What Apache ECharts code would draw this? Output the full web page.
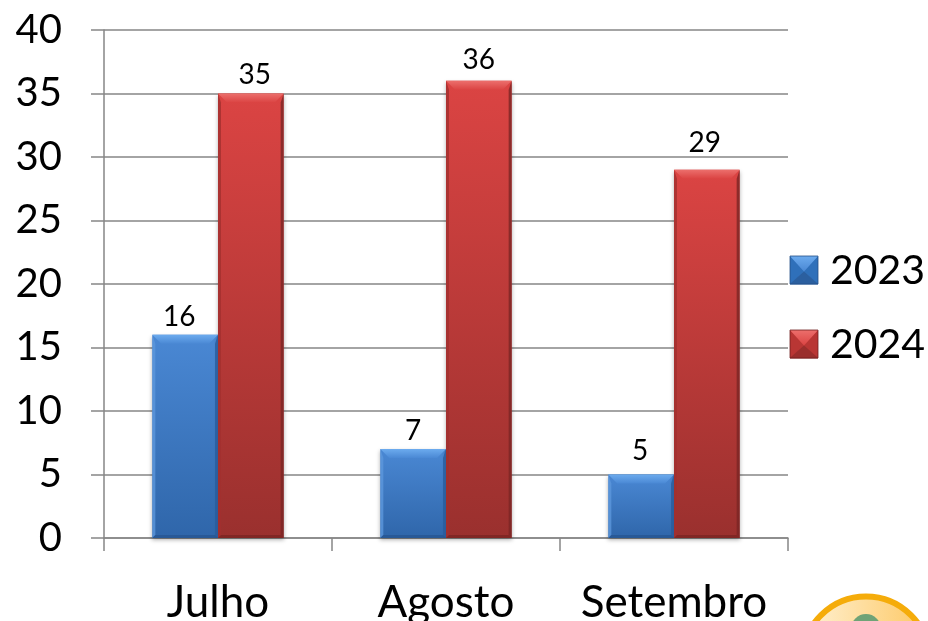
<!DOCTYPE html>
<html>
<head>
<meta charset="utf-8">
<style>html,body{margin:0;padding:0;background:#fff;overflow:hidden}#c{width:928px;height:621px}</style>
<script src="https://cdn.jsdelivr.net/npm/echarts@6/dist/echarts.min.js"></script>
</head>
<body>
<div id="c"></div>
<script>
const categories = ['Julho', 'Agosto', 'Setembro'];
const seriesNames = ['2023', '2024'];
const values2023 = [16, 7, 5];
const values2024 = [35, 36, 29];
const yTicks = [0, 5, 10, 15, 20, 25, 30, 35, 40];

const FONT = 'Lato';
const BAR_RATIO = 0.288;
const labelNudges = {
  '2023': [[-6, 0], [0, 0], [-1, -6]],
  '2024': [[4, -1], [0, -3], [-2, -9]]
};
const palette = {
  '2023': {top:'#4a88d4', bottom:'#2f66aa', light:'#6cabee', dark:'#234f86', side:'#5c97dc', right:'#2a5c9c', legendSide:'#2f70ba', legendBottom:'#2b5f9f'},
  '2024': {top:'#db4443', bottom:'#9a302e', light:'#ec6f6c', dark:'#6e1f1e', side:'#a32f2e', right:'#7a2524', legendSide:'#b93634', legendBottom:'#9a2e2c'}
};
const grad = (a,b) => new echarts.graphic.LinearGradient(0,0,0,1,[{offset:0,color:a},{offset:1,color:b}]);

function barSeries(name, data){
  const p = palette[name];
  return {
    type:'bar', name, barWidth:'28.8%', barGap:'0%',
    data:data.map((value,i)=>({value, label:{offset:labelNudges[name][i]}})),
    itemStyle:{color:grad(p.top,p.bottom), shadowColor:'rgba(0,0,0,0.3)', shadowBlur:4, shadowOffsetY:2},
    label:{show:true, position:'top', distance:4, color:'#000', fontFamily:FONT, fontSize:28}
  };
}
function bevelSeries(name, data, sign){
  const p = palette[name];
  return {
    type:'custom', name:name+' bevel', data:data.map((v,i)=>[i,v]), silent:true, z:3,
    encode:{x:0,y:1}, clip:false,
    renderItem(params, api){
      const top = api.coord([api.value(0), api.value(1)]);
      const base = api.coord([api.value(0), 0]);
      const w = api.size([1,0])[0]*BAR_RATIO;
      const x0 = top[0] + (sign<0 ? -w : 0), x1 = x0 + w;
      const y0 = top[1], y1 = base[1], b = 9, e = 3;
      return {type:'group', children:[
        {type:'polygon', silent:true, shape:{points:[[x0,y0],[x0+e,y0+b],[x0+e,y1-e],[x0,y1]]}, style:{fill:p.side, opacity:0.8}},
        {type:'polygon', silent:true, shape:{points:[[x1,y0],[x1-e,y0+b],[x1-e,y1-e],[x1,y1]]}, style:{fill:p.right, opacity:0.8}},
        {type:'polygon', silent:true, shape:{points:[[x0,y1],[x1,y1],[x1-e,y1-e],[x0+e,y1-e]]}, style:{fill:p.dark, opacity:0.55}},
        {type:'polygon', silent:true, shape:{points:[[x0,y0],[x1,y0],[x1-b,y0+b],[x0+b,y0+b]]}, style:{fill:grad(p.light,p.top)}}
      ]};
    }
  };
}
function legendIcon(x, y, p){
  const s = 28, c = s/2, m = s*0.55;
  const tri = (pts, fill) => ({type:'polygon', silent:true, z:100, shape:{points:pts}, style:{fill}});
  return [
    tri([[x,y],[x,y+s],[x+c,y+m]], p.legendSide),
    tri([[x+s,y],[x+s,y+s],[x+c,y+m]], p.legendSide),
    tri([[x,y+s],[x+s,y+s],[x+c,y+m]], p.legendBottom),
    tri([[x,y],[x+s,y],[x+c,y+m]], grad(p.light,p.top)),
    {type:'rect', silent:true, z:101, shape:{x:x,y:y,width:s,height:s}, style:{fill:'none', stroke:p.dark, lineWidth:0.8}}
  ];
}

const chart = echarts.init(document.getElementById('c'), null, {renderer:'canvas'});
chart.setOption({
  animation:false,
  backgroundColor:'#fff',
  textStyle:{fontFamily:FONT},
  grid:{left:104, right:140, top:30, bottom:83, containLabel:false, outerBoundsMode:'none'},
  legend:{
    data:seriesNames, orient:'vertical', left:790, top:248, itemWidth:28, itemHeight:28, itemGap:29,
    icon:'rect', selectedMode:false, padding:0,
    textStyle:{fontFamily:FONT, fontSize:41, color:'#000', padding:[0,0,0,7], lineHeight:45, height:45}
  },
  xAxis:{
    type:'category', data:categories,
    axisLine:{lineStyle:{color:'#868686', width:1.5}},
    axisTick:{show:true, alignWithLabel:false, length:13, lineStyle:{color:'#868686', width:1.5}},
    axisLabel:{color:'#000', fontFamily:FONT, fontSize:44, margin:43, interval:0, hideOverlap:false}
  },
  yAxis:{
    type:'value', min:yTicks[0], max:yTicks[yTicks.length-1], interval:yTicks[1]-yTicks[0],
    axisLine:{show:true, lineStyle:{color:'#868686', width:1.5}},
    axisTick:{show:true, length:13, lineStyle:{color:'#868686', width:1.5}},
    splitLine:{show:true, lineStyle:{color:'#868686', width:1.5}},
    axisLabel:{color:'#000', fontFamily:FONT, fontSize:40, margin:42}
  },
  series:[
    barSeries('2023', values2023),
    barSeries('2024', values2024),
    bevelSeries('2023', values2023, -1),
    bevelSeries('2024', values2024, 1)
  ],
  graphic:[
    ...legendIcon(790, 256, palette['2023']),
    ...legendIcon(790, 330, palette['2024']),
    {type:'circle', silent:true, shape:{cx:866, cy:660, r:63.5},
      style:{fill:new echarts.graphic.LinearGradient(0,0,1,0,[{offset:0,color:'#fff3d8'},{offset:1,color:'#fdc65f'}]), stroke:'#f5ac0a', lineWidth:6}},
    {type:'circle', silent:true, shape:{cx:866, cy:629, r:15}, style:{fill:'#6fa377'}}
  ]
});
</script>
</body>
</html>
